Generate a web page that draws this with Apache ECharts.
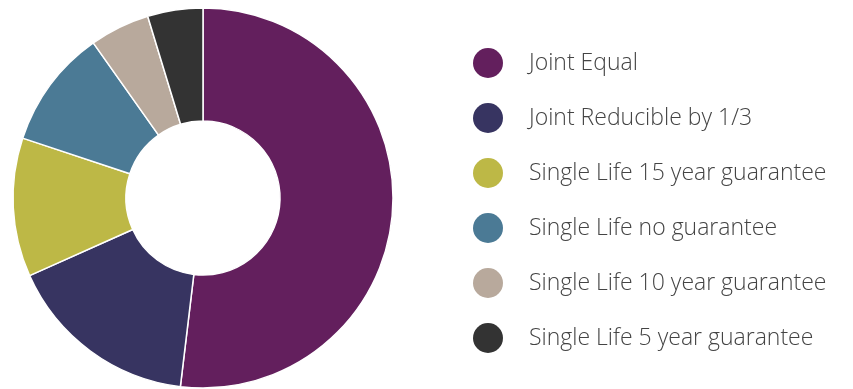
<!DOCTYPE html>
<html>
<head>
<meta charset="utf-8">
<script src="https://cdn.jsdelivr.net/npm/echarts@6/dist/echarts.min.js"></script>
<style>
  html, body { margin: 0; padding: 0; background: #fff; }
  #chart { width: 853px; height: 389px; }
</style>
</head>
<body>
<div id="chart"></div>
<script>
const categories = [
    'Joint Equal',
    'Joint Reducible by 1/3',
    'Single Life 15 year guarantee',
    'Single Life no guarantee',
    'Single Life 10 year guarantee',
    'Single Life 5 year guarantee'
];
const values = [51.9, 16.4, 11.8, 10.1, 5.1, 4.7];
const colors = ['#631f5d', '#373461', '#bdb846', '#4b7a95', '#b8a99c', '#333333'];

let chart = echarts.init(document.getElementById('chart'));

let option = {
    animation: false,
    color: colors,
    legend: {
        orient: 'vertical',
        left: 473,
        top: 48,
        padding: 0,
        icon: 'circle',
        itemWidth: 30,
        itemHeight: 30,
        itemGap: 25,
        data: categories,
        itemStyle: { borderWidth: 0 },
        textStyle: {
            fontFamily: 'Open Sans',
            fontWeight: 300,
            fontSize: 23,
            lineHeight: 30,
            color: '#444444',
            padding: [0, 0, 0, 21]
        }
    },
    series: [
        {
            type: 'pie',
            center: [203, 198],
            radius: [77, 190],
            startAngle: 90,
            clockwise: true,
            label: { show: false },
            labelLine: { show: false },
            emphasis: { disabled: true },
            itemStyle: {
                borderColor: '#ffffff',
                borderWidth: 1.5
            },
            data: categories.map((name, i) => ({ name: name, value: values[i] }))
        }
    ]
};

chart.setOption(option);
</script>
</body>
</html>
